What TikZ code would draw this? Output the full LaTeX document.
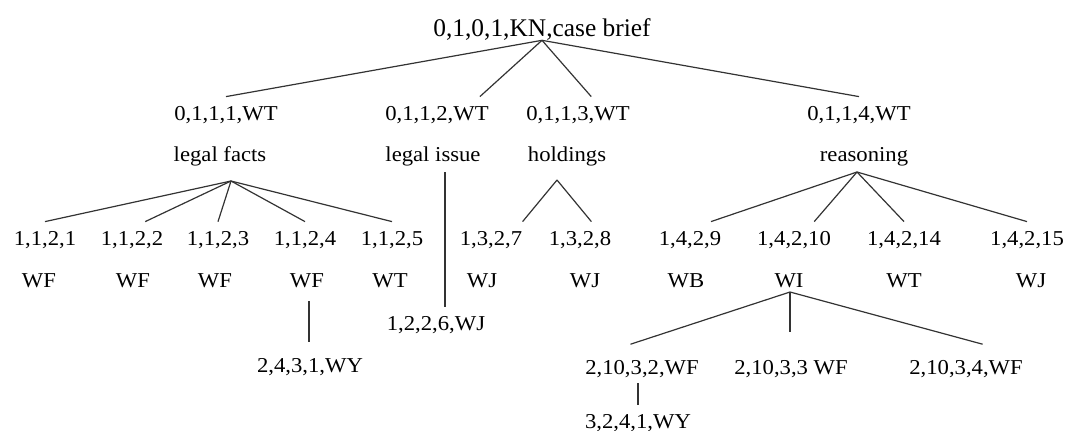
\documentclass[tikz,border=0pt]{standalone}
\usepackage{fontspec}
\setmainfont{Liberation Serif}
\newfontfamily\lowfont{Liberation Serif}[FakeStretch=1.07]

\begin{document}
\begin{tikzpicture}[x=0.5pt,y=-0.5pt,
    lbl/.style={anchor=base,inner xsep=0,inner ysep=4.3pt,text height=7.2pt,text depth=2pt,
      font=\lowfont\fontsize{10.6pt}{12pt}\selectfont},
    low/.style={lbl,inner ysep=7.5pt},
    edge/.style={line width=0.6pt,black!80}]
    \useasboundingbox (0,0) rectangle (1068,430);

    \node[anchor=base,inner sep=0,font=\fontsize{12.7pt}{14pt}\selectfont] (root) at (542,36) {0,1,0,1,KN,case brief};

    \node[lbl] (n1) at (226,120) {0,1,1,1,WT};
    \node[lbl] (t1) at (220,161) {legal facts};
    \node[lbl] (n2) at (437,120) {0,1,1,2,WT};
    \node[lbl] (t2) at (433,161) {legal issue};
    \node[lbl] (n3) at (578,120) {0,1,1,3,WT};
    \node[lbl] (t3) at (567,161) {holdings};
    \node[lbl] (n4) at (859,120) {0,1,1,4,WT};
    \node[lbl] (t4) at (864,161) {reasoning};

    \node[lbl] (c1) at (45,245) {1,1,2,1};
    \node[lbl] (w1) at (39,287) {WF};
    \node[lbl] (c2) at (132,245) {1,1,2,2};
    \node[lbl] (w2) at (133,287) {WF};
    \node[lbl] (c3) at (218,245) {1,1,2,3};
    \node[lbl] (w3) at (215,287) {WF};
    \node[lbl] (c4) at (305,245) {1,1,2,4};
    \node[lbl] (w4) at (307,287) {WF};
    \node[lbl] (c5) at (392,245) {1,1,2,5};
    \node[lbl] (w5) at (390,287) {WT};
    \node[lbl] (c7) at (491,245) {1,3,2,7};
    \node[lbl] (w7) at (482,287) {WJ};
    \node[lbl] (c8) at (580,245) {1,3,2,8};
    \node[lbl] (w8) at (585,287) {WJ};
    \node[lbl] (c9) at (690,245) {1,4,2,9};
    \node[lbl] (w9) at (686,287) {WB};
    \node[lbl] (c10) at (794,245) {1,4,2,10};
    \node[lbl] (w10) at (789,287) {WI};
    \node[lbl] (c14) at (904,245) {1,4,2,14};
    \node[lbl] (w14) at (904,287) {WT};
    \node[lbl] (c15) at (1027,245) {1,4,2,15};
    \node[lbl] (w15) at (1031,287) {WJ};

    \node[lbl] (i6) at (436,330) {1,2,2,6,WJ};
    \node[low] (g1) at (310,372) {2,4,3,1,WY};
    \node[low] (g2) at (642,374) {2,10,3,2,WF};
    \node[low] (g3) at (791,374) {2,10,3,3 WF};
    \node[low] (g4) at (966,374) {2,10,3,4,WF};
    \node[lbl] (h1) at (638,428) {3,2,4,1,WY};

    % hubs under the parent labels
    \coordinate (hf) at (231,181);
    \coordinate (hh) at (557,180);
    \coordinate (hre) at (857,172);
    \coordinate (hi) at (445,172);
    \coordinate (hw) at (309,301);
    \coordinate (hwi) at (790,292);
    \coordinate (hg) at (638,383);

    \draw[edge] (root.south) -- (n1.north);
    \draw[edge] (root.south) -- (n2.23);
    \draw[edge] (root.south) -- (n3.54);
    \draw[edge] (root.south) -- (n4.north);

    \draw[edge] (hf) -- (c1.north);
    \draw[edge] (hf) -- (c2.54);
    \draw[edge] (hf) -- (c3.north);
    \draw[edge] (hf) -- (c4.north);
    \draw[edge] (hf) -- (c5.north);

    \draw[edge] (hi) -- (hi |- i6.north);

    \draw[edge] (hh) -- (c7.north east);
    \draw[edge] (hh) -- (c8.58);

    \draw[edge] (hre) -- (c9.41);
    \draw[edge] (hre) -- (c10.42);
    \draw[edge] (hre) -- (c14.north);
    \draw[edge] (hre) -- (c15.north);

    \draw[edge] (hw) -- (hw |- g1.north);
    \draw[edge] (hwi) -- (g2.115);
    \draw[edge,shorten >=6pt] (hwi) -- (hwi |- g3.north);
    \draw[edge] (hwi) -- (g4.56);
    \draw[edge] (hg) -- (hg |- h1.north);
\end{tikzpicture}
\end{document}
